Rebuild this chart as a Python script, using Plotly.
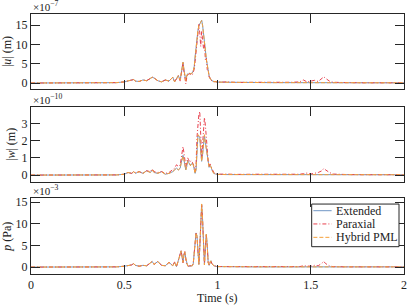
import plotly.graph_objects as go

# ---------------- data ----------------
time_s = [0, 0.2, 0.4, 0.46,
          0.50, 0.52, 0.54, 0.55, 0.56, 0.58, 0.60, 0.62, 0.64, 0.65, 0.66, 0.68, 0.70, 0.72, 0.74, 0.76, 0.77, 0.78, 0.79,
          0.80, 0.805, 0.81, 0.815, 0.82, 0.825, 0.83, 0.835, 0.84, 0.845, 0.85, 0.855, 0.86, 0.865, 0.87, 0.875,
          0.88, 0.885, 0.89, 0.895, 0.90, 0.905, 0.91, 0.915, 0.92, 0.925, 0.93, 0.935, 0.94, 0.945, 0.95, 0.955,
          0.96, 0.965, 0.97,
          0.98, 0.99, 1.00, 1.05, 1.10, 1.20, 1.30, 1.40,
          1.44, 1.46, 1.48, 1.50, 1.52, 1.54, 1.56, 1.57, 1.58, 1.60, 1.62, 1.65, 1.70, 1.80, 2.00]

# |u| (x1e-7 m)
u_extended = [0.0, 0.0, 0.05, 0.1,
              0.3, 0.5, 0.8, 0.9, 0.5, 0.4, 0.8, 0.6, 1.2, 1.5, 1.3, 0.6, 0.3, 0.8, 0.5, 1.5, 0.3, 1.2, 1.9,
              0.8, 2.5, 4.5, 5.4, 3.5, 1.2, 0.6, 1.8, 2.4, 2.3, 2.5, 2.4, 2.5, 2.6, 3.2, 4.2,
              6.8, 9.5, 12.0, 13.6, 14.8, 15.4, 15.9, 16.3, 15.0, 13.2, 11.0, 8.5, 6.2, 4.3, 2.9, 1.9,
              1.2, 0.8, 0.6,
              0.4, 0.3, 0.25, 0.2, 0.15, 0.1, 0.1, 0.1,
              0.1, 0.1, 0.15, 0.1, 0.15, 0.1, 0.1, 0.1, 0.1, 0.1, 0.1, 0.1, 0.05, 0.05, 0.05]
u_paraxial = [0.0, 0.0, 0.05, 0.1,
              0.3, 0.5, 0.8, 0.9, 0.5, 0.4, 0.8, 0.6, 1.2, 1.5, 1.3, 0.6, 0.3, 0.8, 0.5, 1.5, 0.3, 1.2, 1.9,
              0.5, 2.2, 4.3, 5.2, 3.0, 0.6, -0.2, 1.4, 2.2, 2.0, 2.6, 2.2, 2.4, 2.2, 2.8, 3.5,
              5.6, 8.5, 11.5, 13.8, 15.2, 13.0, 9.5, 13.5, 11.5, 9.0, 10.2, 6.0, 6.5, 3.5, 3.2, 1.5,
              1.4, 0.6, 0.7,
              0.3, 0.4, 0.2, 0.3, 0.15, 0.2, 0.15, 0.2,
              0.3, 0.8, 0.3, 0.5, 0.7, 0.4, 1.1, 1.6, 1.2, 0.5, 0.2, 0.1, 0.1, 0.05, 0.05]
u_hybrid = [0.0, 0.0, 0.05, 0.1,
            0.3, 0.5, 0.8, 0.9, 0.5, 0.4, 0.8, 0.6, 1.2, 1.5, 1.3, 0.6, 0.3, 0.8, 0.5, 1.5, 0.3, 1.2, 1.9,
            0.8, 2.5, 4.4, 5.4, 3.5, 1.2, 0.6, 1.8, 2.4, 2.3, 2.5, 2.4, 2.5, 2.6, 3.2, 4.2,
            6.7, 9.4, 11.9, 13.6, 14.9, 15.5, 16.0, 16.2, 14.9, 13.1, 11.0, 8.5, 6.2, 4.3, 2.9, 1.9,
            1.2, 0.8, 0.6,
            0.4, 0.3, 0.25, 0.2, 0.15, 0.1, 0.1, 0.1,
            0.1, 0.1, 0.12, 0.1, 0.12, 0.1, 0.1, 0.1, 0.1, 0.1, 0.1, 0.1, 0.05, 0.05, 0.05]

# |w| (x1e-10 m)
w_extended = [0.0, 0.0, 0.0, 0.01,
              0.05, 0.15, 0.1, 0.2, 0.1, 0.2, 0.1, 0.25, 0.15, 0.3, 0.15, 0.1, 0.2, 0.05, 0.1, 0.2, 0.3, 0.4, 0.3,
              0.4, 0.7, 1.0, 1.15, 0.9, 0.5, 0.3, 0.5, 0.85, 0.75, 0.6, 0.55, 0.65, 0.7, 0.6, 0.35,
              0.1, 0.3, 1.6, 2.3, 2.25, 2.2, 1.4, 0.8, 1.2, 2.1, 2.3, 1.9, 1.5, 1.1, 0.7, 0.45,
              0.55, 0.5, 0.3,
              0.1, 0.06, 0.04, 0.03, 0.03, 0.02, 0.03, 0.03,
              0.03, 0.04, 0.03, 0.03, 0.03, 0.03, 0.03, 0.03, 0.03, 0.03, 0.03, 0.03, 0.02, 0.02, 0.02]
w_paraxial = [0.0, 0.0, 0.0, 0.01,
              0.05, 0.15, 0.1, 0.2, 0.15, 0.2, 0.1, 0.25, 0.2, 0.35, 0.2, 0.15, 0.2, 0.1, 0.15, 0.3, 0.4, 0.6, 0.5,
              0.6, 1.0, 1.4, 1.65, 1.3, 0.7, 0.5, 0.7, 1.0, 0.9, 0.75, 0.8, 0.85, 0.75, 0.6, 0.5,
              0.2, 0.6, 2.2, 3.1, 3.5, 3.7, 2.3, 1.0, 1.8, 3.0, 3.35, 2.9, 2.0, 1.3, 0.8, 0.5,
              0.65, 0.5, 0.35,
              0.15, 0.08, 0.05, 0.06, 0.04, 0.05, 0.04, 0.06,
              0.05, 0.08, 0.12, 0.06, 0.1, 0.15, 0.25, 0.39, 0.3, 0.15, 0.06, 0.04, 0.03, 0.02, 0.02]
w_hybrid = [0.0, 0.0, 0.0, 0.01,
            0.05, 0.15, 0.1, 0.2, 0.1, 0.2, 0.1, 0.25, 0.15, 0.3, 0.15, 0.1, 0.2, 0.05, 0.1, 0.2, 0.3, 0.4, 0.3,
            0.4, 0.7, 1.0, 1.1, 0.9, 0.5, 0.3, 0.5, 0.8, 0.75, 0.6, 0.55, 0.65, 0.7, 0.6, 0.35,
            0.1, 0.35, 1.6, 2.35, 2.3, 2.2, 1.4, 0.8, 1.2, 2.1, 2.35, 1.9, 1.5, 1.1, 0.7, 0.45,
            0.55, 0.5, 0.3,
            0.1, 0.06, 0.04, 0.03, 0.03, 0.02, 0.03, 0.03,
            0.03, 0.04, 0.03, 0.03, 0.03, 0.03, 0.03, 0.03, 0.03, 0.03, 0.03, 0.03, 0.02, 0.02, 0.02]

# p (x1e-3 Pa)
p_extended = [0.0, 0.0, 0.0, 0.05,
              0.2, 0.3, 0.5, 0.8, 0.4, 0.2, 0.4, 0.3, 0.9, 1.3, 0.6, 1.3, 0.4, 0.3, 1.1, 0.3, 1.1, 0.1, 1.5,
              3.3, 3.75, 2.4, 1.1, 2.8, 3.5, 2.0, 0.6, 0.3, 0.2, 0.2, 0.3, 0.2, 0.3, 0.8, 3.0,
              6.0, 7.9, 7.2, 3.0, 0.6, 4.5, 11.0, 14.5, 11.0, 4.0, 0.5, 4.5, 7.6, 5.0, 1.0, 0.4,
              1.2, 1.45, 0.8,
              0.3, 0.2, 0.1, 0.1, 0.05, 0.05, 0.05, 0.05,
              0.05, 0.05, 0.05, 0.05, 0.05, 0.05, 0.05, 0.05, 0.05, 0.05, 0.05, 0.05, 0.05, 0.05, 0.05]
p_paraxial = [0.0, 0.0, 0.0, 0.05,
              0.2, 0.3, 0.5, 0.8, 0.4, 0.2, 0.4, 0.3, 0.9, 1.3, 0.6, 1.3, 0.4, 0.3, 1.1, 0.3, 1.2, 0.1, 1.6,
              3.4, 3.8, 2.3, 1.0, 2.9, 3.6, 1.9, 0.5, 0.3, 0.2, 0.3, 0.3, 0.2, 0.3, 0.9, 3.1,
              6.1, 7.8, 7.0, 2.9, 0.7, 4.6, 11.2, 14.3, 10.8, 4.1, 0.6, 4.6, 7.4, 4.9, 1.1, 0.5,
              1.3, 1.4, 0.8,
              0.3, 0.2, 0.15, 0.1, 0.1, 0.05, 0.1, 0.1,
              0.1, 0.3, 0.3, 0.2, 0.4, 0.3, 0.9, 1.3, 0.8, 0.3, 0.1, 0.05, 0.05, 0.05, 0.05]
p_hybrid = [0.0, 0.0, 0.0, 0.05,
            0.2, 0.3, 0.5, 0.8, 0.4, 0.2, 0.4, 0.3, 0.9, 1.3, 0.6, 1.3, 0.4, 0.3, 1.1, 0.3, 1.1, 0.1, 1.5,
            3.3, 3.7, 2.4, 1.1, 2.8, 3.5, 2.0, 0.6, 0.3, 0.2, 0.2, 0.3, 0.2, 0.3, 0.8, 3.0,
            6.0, 7.9, 7.2, 3.0, 0.6, 4.5, 11.0, 14.6, 11.0, 4.0, 0.5, 4.5, 7.6, 5.0, 1.0, 0.4,
            1.2, 1.45, 0.8,
            0.3, 0.2, 0.1, 0.1, 0.05, 0.05, 0.05, 0.05,
            0.05, 0.05, 0.05, 0.05, 0.05, 0.05, 0.05, 0.05, 0.05, 0.05, 0.05, 0.05, 0.05, 0.05, 0.05]

series_names = ["Extended", "Paraxial", "Hybrid PML"]
x_ticks = [0, 0.5, 1, 1.5, 2]
x_ticklabels = ["0", "0.5", "1", "1.5", "2"]
x_title = "Time (s)"
panels = [
    dict(data=[u_extended, u_paraxial, u_hybrid], title="|<i>u</i>| (m)", exp="×10<sup>−7</sup>",
         ticks=[0, 5, 10, 15], yrange=[-1.55, 17.9]),
    dict(data=[w_extended, w_paraxial, w_hybrid], title="|<i>w</i>| (m)", exp="×10<sup>−10</sup>",
         ticks=[0, 1, 2, 3], yrange=[-0.4, 3.97]),
    dict(data=[p_extended, p_paraxial, p_hybrid], title="<i>p</i> (Pa)", exp="×10<sup>−3</sup>",
         ticks=[0, 5, 10, 15], yrange=[-1.6, 15.9]),
]

# ---------------- styling ----------------
colors = ["#7097c6", "#e8414e", "#f6a03a"]
dashes = ["solid", "4px,2px,1px,2px", "4px,2px"]
FONT = "Liberation Serif"
TXT = "#222"
AXC = "#262626"
domains = [[0.7115, 1.0], [0.354, 0.643], [0.0, 0.291]]

fig = go.Figure()
for i, pnl in enumerate(panels):
    xa = "x" if i == 0 else f"x{i+1}"
    ya = "y" if i == 0 else f"y{i+1}"
    for j, vals in enumerate(pnl["data"]):
        fig.add_trace(go.Scatter(
            x=time_s, y=vals, mode="lines", name=series_names[j],
            line=dict(color=colors[j], width=1, dash=dashes[j]),
            xaxis=xa, yaxis=ya, showlegend=False))

annotations = []
shapes = []
for i, pnl in enumerate(panels):
    annotations.append(dict(
        text=pnl["exp"], xref="paper", yref="paper", x=0, y=domains[i][1],
        xanchor="left", yanchor="bottom", showarrow=False, yshift=-1,
        font=dict(family=FONT, size=11, color=TXT)))
annotations.append(dict(text=x_title, xref="paper", yref="paper", x=0.5, y=-0.094,
                        xanchor="center", yanchor="middle", showarrow=False,
                        font=dict(family=FONT, size=12, color=TXT)))

# compact legend box (paper coordinates, inside bottom panel)
leg_x0, leg_x1, leg_y0, leg_y1 = 0.7525, 0.9866, 0.105, 0.269
shapes.append(dict(type="rect", xref="paper", yref="paper", x0=leg_x0, x1=leg_x1, y0=leg_y0, y1=leg_y1,
                   line=dict(color=AXC, width=1), fillcolor="white", layer="above"))
leg_rows = [0.2435, 0.1925, 0.141]
for j, name in enumerate(series_names):
    shapes.append(dict(type="line", xref="paper", yref="paper", x0=0.757, x1=0.806,
                       y0=leg_rows[j], y1=leg_rows[j], layer="above",
                       line=dict(color=colors[j], width=1, dash=dashes[j])))
    annotations.append(dict(text=name, xref="paper", yref="paper", x=0.811, y=leg_rows[j],
                            xanchor="left", yanchor="middle", showarrow=False,
                            font=dict(family=FONT, size=12, color=TXT)))

layout = dict(
    width=407, height=306,
    margin=dict(l=31, r=3, t=14, b=32, autoexpand=False),
    paper_bgcolor="white", plot_bgcolor="white",
    font=dict(family=FONT, size=12, color=TXT),
    showlegend=False,
    annotations=annotations, shapes=shapes,
)
for i, pnl in enumerate(panels):
    xk = "xaxis" if i == 0 else f"xaxis{i+1}"
    yk = "yaxis" if i == 0 else f"yaxis{i+1}"
    ya = "y" if i == 0 else f"y{i+1}"
    xa = "x" if i == 0 else f"x{i+1}"
    layout[xk] = dict(domain=[0, 1], range=[0, 2], anchor=ya,
                      tickvals=x_ticks, ticktext=x_ticklabels,
                      showticklabels=(i == 2), ticks="inside", ticklen=9, tickwidth=1,
                      tickcolor=AXC, showline=True, linecolor=AXC, linewidth=1, mirror="ticks",
                      showgrid=False, zeroline=False, automargin=False,
                      tickfont=dict(family=FONT, size=12, color=TXT))
    layout[yk] = dict(domain=domains[i], range=pnl["yrange"], anchor=xa,
                      tickvals=pnl["ticks"], ticks="inside", ticklen=9, tickwidth=1,
                      tickcolor=AXC, showline=True, linecolor=AXC, linewidth=1, mirror="ticks",
                      showgrid=False, zeroline=False, automargin=False,
                      tickfont=dict(family=FONT, size=12, color=TXT),
                      title=dict(text=pnl["title"], font=dict(family=FONT, size=12), standoff=3))

fig.update_layout(**layout)
fig.write_html("out.html", config={"displayModeBar": False},
               post_script="document.body.style.margin='0';document.body.style.overflow='hidden';")
